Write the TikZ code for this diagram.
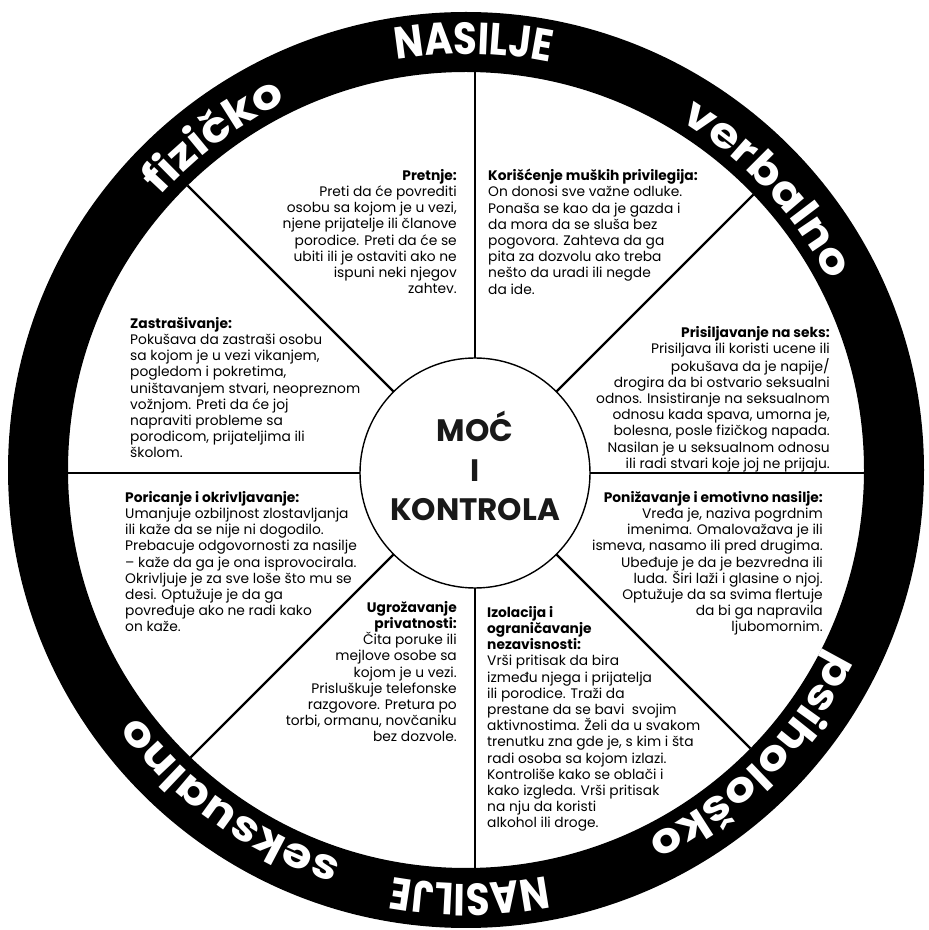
\documentclass[tikz,border=0pt]{standalone}
\usepackage{fontspec}
\setmainfont{Poppins}
\newfontfamily\ringcaps[FakeStretch=0.86]{Poppins}
\newfontfamily\ringwide[FakeStretch=1.14]{Poppins}
\usetikzlibrary{decorations.text}
\begin{document}
\begin{tikzpicture}[x=1pt,y=1pt,
  bodytext/.style={inner sep=0pt, text=black, font=\fontsize{13.8}{16.2}\selectfont},
  leftblock/.style={bodytext, align=left, anchor=north west},
  rightblock/.style={bodytext, align=right, anchor=north east},
  spoke/.style={line width=2.4pt, black},
  ringlabel/.style={decorate, decoration={text along path, text align=center, text color=white, text={#1}}}
]
\useasboundingbox (0,0) rectangle (929,930);
\fill[white] (0,0) rectangle (929,930);
\coordinate (rc) at (466,460);
\coordinate (hc) at (475,457);
% ring
\fill[black, even odd rule] (rc) circle (458) (rc) circle (398);
% spokes
\begin{scope}
  \clip (rc) circle (398);
  \foreach \a in {0,45,...,315} {
    \draw[spoke] (hc) -- ++(\a:600);
  }
\end{scope}
% hub
\node[circle, draw=black, line width=1.4pt, fill=white, minimum size=230pt, inner sep=0pt] (hub) at (hc) {};
\node[font=\bfseries\fontsize{31}{39.5}\selectfont, align=center, text=black!90] (hubtext) at (475,464) {MOĆ\\I\\KONTROLA};
% text blocks
\node[rightblock] (pretnje) at (457,761) {\textbf{Pretnje:}\\Preti da će povrediti\\osobu sa kojom je u vezi,\\njene prijatelje ili članove\\porodice. Preti da će se\\ubiti ili je ostaviti ako ne\\ispuni neki njegov\\zahtev.};
\node[leftblock] (privilegije) at (488,761) {\textbf{Korišćenje muških privilegija:}\\On donosi sve važne odluke.\\Ponaša se kao da je gazda i\\da mora da se sluša bez\\pogovora. Zahteva da ga\\pita za dozvolu ako treba\\nešto da uradi ili negde\\da ide.};
\node[leftblock] (zastrasivanje) at (130,613) {\textbf{Zastrašivanje:}\\Pokušava da zastraši osobu\\sa kojom je u vezi vikanjem,\\pogledom i pokretima,\\uništavanjem stvari, neopreznom\\vožnjom. Preti da će joj\\napraviti probleme sa\\porodicom, prijateljima ili\\školom.};
\node[rightblock] (seks) at (830,604) {\textbf{Prisiljavanje na seks:}\\Prisiljava ili koristi ucene ili\\pokušava da je napije/\\drogira da bi ostvario seksualni\\odnos. Insistiranje na seksualnom\\odnosu kada spava, umorna je,\\bolesna, posle fizičkog napada.\\Nasilan je u seksualnom odnosu\\ili radi stvari koje joj ne prijaju.};
\node[leftblock] (poricanje) at (125,439) {\textbf{Poricanje i okrivljavanje:}\\Umanjuje ozbiljnost zlostavljanja\\ili kaže da se nije ni dogodilo.\\Prebacuje odgovornosti za nasilje\\– kaže da ga je ona isprovocirala.\\Okrivljuje je za sve loše što mu se\\desi. Optužuje je da ga\\povređuje ako ne radi kako\\on kaže.};
\node[rightblock] (ponizavanje) at (823,439) {\textbf{Ponižavanje i emotivno nasilje:}\\Vređa je, naziva pogrdnim\\imenima. Omalovažava je ili\\ismeva, nasamo ili pred drugima.\\Ubeđuje je da je bezvredna ili\\luda. Širi laži i glasine o njoj.\\Optužuje da sa svima flertuje\\da bi ga napravila\\ljubomornim.};
\node[rightblock] (privatnost) at (457,329) {\textbf{Ugrožavanje}\\\textbf{privatnosti:}\\Čita poruke ili\\mejlove osobe sa\\kojom je u vezi.\\Prisluškuje telefonske\\razgovore. Pretura po\\torbi, ormanu, novčaniku\\bez dozvole.};
\node[leftblock] (izolacija) at (487,324) {\textbf{Izolacija i}\\\textbf{ograničavanje}\\\textbf{nezavisnosti:}\\Vrši pritisak da bira\\između njega i prijatelja\\ili porodice. Traži da\\prestane da se bavi\ \ svojim\\aktivnostima. Želi da u svakom\\trenutku zna gde je, s kim i šta\\radi osoba sa kojom izlazi.\\Kontroliše kako se oblači i\\kako izgleda. Vrši pritisak\\na nju da koristi\\alkohol ili droge.};
% ring labels
\path[ringlabel={|\ringcaps\bfseries\fontsize{45}{45}\selectfont|NASILJE}] (rc) ++(129:416) arc[start angle=129, end angle=49, radius=416];
\path[ringlabel={|\ringcaps\bfseries\fontsize{45}{45}\selectfont|NASILJE}] (rc) ++(310.5:414) arc[start angle=310.5, end angle=230.5, radius=414];
\path[ringlabel={|\ringwide\bfseries\fontsize{42}{42}\selectfont|fizičko}] (rc) ++(167:410) arc[start angle=167, end angle=87, radius=410];
\path[ringlabel={|\ringwide\bfseries\fontsize{42}{42}\selectfont|verbalno}] (rc) ++(83:410) arc[start angle=83, end angle=3, radius=410];
\path[ringlabel={|\ringwide\bfseries\fontsize{42}{42}\selectfont|psihološko}] (rc) ++(355:410) arc[start angle=355, end angle=275, radius=410];
\path[ringlabel={|\ringwide\bfseries\fontsize{42}{42}\selectfont|seksualno}] (rc) ++(274.5:410) arc[start angle=274.5, end angle=194.5, radius=410];
\end{tikzpicture}
\end{document}
